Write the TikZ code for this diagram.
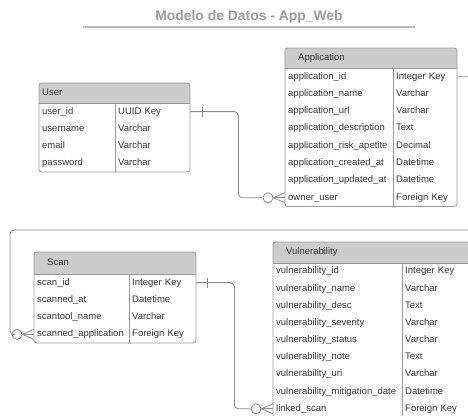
\documentclass[tikz,border=0pt]{standalone}
\usepackage{fontspec}
\setmainfont{Liberation Sans}
\usetikzlibrary{calc}
\definecolor{txt}{HTML}{333333}
\definecolor{titlegray}{HTML}{9C9C9C}
\definecolor{ulgray}{HTML}{BDBDBD}
\definecolor{bordergray}{HTML}{999999}
\definecolor{linegray}{HTML}{8A8A8A}
\definecolor{hdfill}{HTML}{CCCCCC}
\tikzset{
  border/.style={draw=bordergray, line width=0.8pt},
  conn/.style={draw=linegray, line width=0.8pt},
  celltext/.style={anchor=west, inner xsep=3pt, inner ysep=0pt, text height=7pt, text depth=2.2pt,
    align=left, text=txt, font=\fontsize{9.5}{11}\selectfont},
  hdtext/.style={anchor=west, inner xsep=3pt, inner ysep=0pt, text height=7pt, text depth=2.2pt, text=txt,
    font=\fontsize{9.5}{11}\selectfont},
  ercirc/.style={circle, draw=linegray, line width=0.8pt, fill=white, minimum size=10pt, inner sep=0pt},
}
% #1 prefix, #2 L, #3 D, #4 R, #5 top, #6 header bottom, #7 row height, #8 title, #9 rows
\newcommand{\ertbl}[9]{%
  \foreach \ernm/\ertp [count=\ern] in {#9} {\xdef\ernrows{\ern}}%
  \pgfmathsetmacro{\erbot}{#6+\ernrows*#7}%
  \begin{scope}
    \clip[rounded corners=2.5pt] (#2,#5) rectangle (#4,\erbot);
    \fill[white] (#2,#5) rectangle (#4,\erbot);
    \fill[hdfill] (#2,#5) rectangle (#4,#6);
  \end{scope}
  \draw[border] (#2,#6) -- (#4,#6);
  \draw[border] (#3,#6) -- (#3,\erbot);
  \draw[border, rounded corners=2.5pt] (#2,#5) rectangle (#4,\erbot);
  \node[hdtext] (#1h) at (#2,{(#5+#6)/2}) {#8};
  \foreach \ernm/\ertp [count=\eri] in {#9} {
    \pgfmathsetmacro{\ery}{#6+(\eri-0.5)*#7}
    \pgfmathsetmacro{\erwa}{#3-#2-6}
    \pgfmathsetmacro{\erwb}{#4-#3-6}
    \node[celltext, text width=\erwa pt] (#1n\eri) at (#2,\ery) {\ernm};
    \node[celltext, text width=\erwb pt] (#1t\eri) at (#3,\ery) {\ertp};
  }%
}
\begin{document}
\begin{tikzpicture}[x=1pt,y=-1pt]
\clip (0,0) rectangle (468,415);
\useasboundingbox (0,0) rectangle (468,415);

% title
\node[font=\bfseries\fontsize{13.9}{16}\selectfont, text=titlegray] (title) at (249,17) {Modelo de Datos - App\_Web};
\draw[ulgray, line width=1.2pt] (83,27) -- (415,27);

% tables
\ertbl{u}{39}{115}{190}{83}{103}{17.25}{User}{user\_id/UUID Key, username/Varchar, email/Varchar, password/Varchar}
\ertbl{a}{285}{393}{457}{48}{68}{17.3}{\hspace*{10pt}Application}{application\_id/Integer Key, application\_name/Varchar, application\_url/Varchar, application\_description/Text, application\_risk\_apetite/Decimal, application\_created\_at/Datetime, application\_updated\_at/Datetime, owner\_user/Foreign Key}
\ertbl{s}{34}{129}{196}{252}{274}{17.25}{\hspace*{10pt}Scan}{scan\_id/Integer Key, scanned\_at/Datetime, scantool\_name/Varchar, scanned\_application/Foreign Key}
\ertbl{v}{273}{402}{490}{242}{263}{17.15}{\hspace*{10pt}Vulnerability}{vulnerability\_id/Integer Key, vulnerability\_name/Varchar, vulnerability\_desc/Text, vulnerability\_severity/Varchar, vulnerability\_status/Varchar, vulnerability\_note/Text, vulnerability\_uri/Varchar, vulnerability\_mitigation\_date/Datetime, linked\_scan/Foreign Key}

% circles of the "many" ends
\node[ercirc] (acirc) at ([xshift=-17pt]an8.west) {};
\node[ercirc] (scirc) at ([xshift=-17pt]sn4.west) {};
\node[ercirc] (vcirc) at ([xshift=-17pt]vn9.west) {};

% User -> Application
\draw[conn, rounded corners=4pt] (ut1.east) -- ++(48,0) |- (acirc.west);
\draw[conn] ([xshift=12pt,yshift=-5pt]ut1.east) -- ([xshift=12pt,yshift=5pt]ut1.east);
\draw[conn] (acirc.east) -- ([yshift=5pt]an8.west);
\draw[conn] (acirc.east) -- (an8.west);
\draw[conn] (acirc.east) -- ([yshift=-5pt]an8.west);

% Application -> Scan
\coordinate (loopR) at (478,230);
\coordinate (loopL) at (10,230);
\draw[conn, rounded corners=4pt] (at1.east) -| (loopR) -- (loopL) |- (scirc.west);
\draw[conn] (scirc.east) -- ([yshift=5pt]sn4.west);
\draw[conn] (scirc.east) -- (sn4.west);
\draw[conn] (scirc.east) -- ([yshift=-5pt]sn4.west);

% Scan -> Vulnerability
\draw[conn, rounded corners=4pt] (st1.east) -- ++(38,0) |- (vcirc.west);
\draw[conn] ([xshift=11pt,yshift=-5pt]st1.east) -- ([xshift=11pt,yshift=5pt]st1.east);
\draw[conn] (vcirc.east) -- ([yshift=5pt]vn9.west);
\draw[conn] (vcirc.east) -- (vn9.west);
\draw[conn] (vcirc.east) -- ([yshift=-5pt]vn9.west);
\end{tikzpicture}
\end{document}
